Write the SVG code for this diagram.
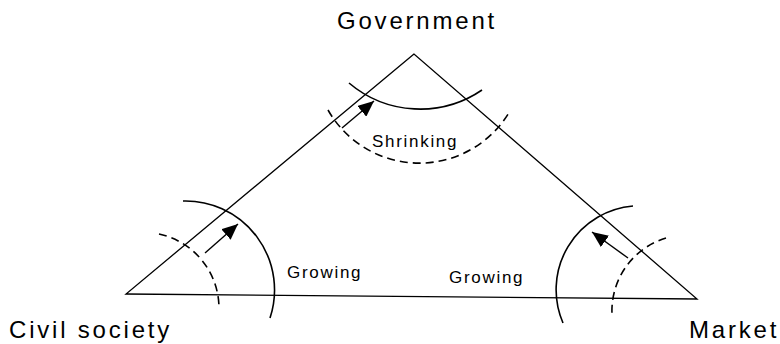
<svg xmlns="http://www.w3.org/2000/svg" width="780" height="344" viewBox="0 0 780 344">
<style>
.lbl{font-family:"Liberation Sans",Arial,sans-serif;fill:#000}
.big{font-size:24px;letter-spacing:2.8px}
.small{font-size:17px;letter-spacing:1.7px}
.ln{fill:none;stroke:#000;stroke-width:1.3}
.arc{fill:none;stroke:#000;stroke-width:1.6}
.dash{fill:none;stroke:#000;stroke-width:1.6;stroke-dasharray:8 5}
.arr{fill:none;stroke:#000;stroke-width:1.4}
</style>
<defs>
<marker id="ah" markerUnits="userSpaceOnUse" markerWidth="17" markerHeight="14" refX="16" refY="7" orient="auto">
<path d="M0,0 L16,7 L0,14 Z" fill="#000"/>
</marker>
</defs>
<g id="connectors">
<path class="ln" d="M414,54 L126,294 L697,299 Z"/>
<path class="arc" d="M349,83 A110,110 0 0 0 482,90"/>
<path class="dash" d="M328,110 A105,105 0 0 0 510,111"/>
<path class="arc" d="M183,201 A89,89 0 0 1 270,318"/>
<path class="dash" d="M159,234 A76,76 0 0 1 219,308"/>
<path class="arc" d="M633,206 A84,84 0 0 0 563,323"/>
<path class="dash" d="M666,238 A76,76 0 0 0 612,314"/>
<path class="arr" d="M342,128 L374,101" marker-end="url(#ah)"/>
<path class="arr" d="M205,253 L238,224" marker-end="url(#ah)"/>
<path class="arr" d="M628,258 L592,232" marker-end="url(#ah)"/>
</g>
<g id="government"><text class="lbl big" x="337" y="29">Government</text></g>
<g id="civil-society"><text class="lbl big" x="9" y="338">Civil society</text></g>
<g id="market"><text class="lbl big" x="689" y="338">Market</text></g>
<g id="shrinking"><text class="lbl small" x="372" y="147">Shrinking</text></g>
<g id="growing-left"><text class="lbl small" x="287" y="278">Growing</text></g>
<g id="growing-right"><text class="lbl small" x="449" y="283">Growing</text></g>
</svg>
